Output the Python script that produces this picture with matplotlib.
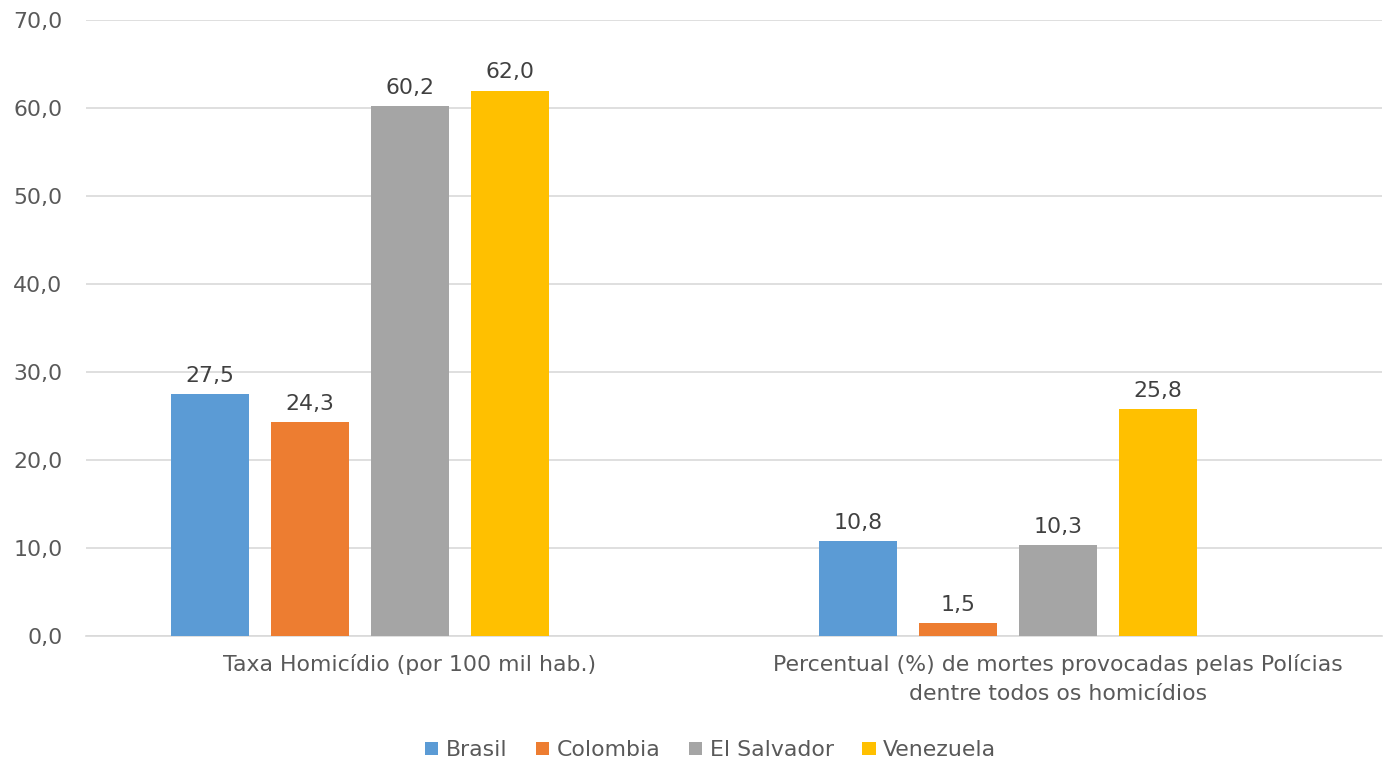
import numpy as np
import matplotlib.pyplot as plt

categories = ["Taxa Homicídio (por 100 mil hab.)",
              "Percentual (%) de mortes provocadas pelas Polícias\ndentre todos os homicídios"]
countries = ["Brasil", "Colombia", "El Salvador", "Venezuela"]
values = {
    "Brasil": [27.5, 10.8],
    "Colombia": [24.3, 1.5],
    "El Salvador": [60.2, 10.3],
    "Venezuela": [62.0, 25.8],
}
colors = ["#5B9BD5", "#ED7D31", "#A5A5A5", "#FFC000"]
yticks = [0, 10, 20, 30, 40, 50, 60, 70]

plt.rcParams['font.family'] = ['DejaVu Sans']
txt = "#595959"
fs = 15.8

fig = plt.figure(figsize=(13.88, 7.64), dpi=100)
ax = fig.add_axes([0.062, 0.1675, 0.9337, 0.806])

x = np.arange(len(categories))
slot = 0.1543
width = 0.12
for i, c in enumerate(countries):
    pos = x + (i - 2) * slot
    bars = ax.bar(pos, values[c], width=width, color=colors[i], label=c, zorder=3)
    for b, v in zip(bars, values[c]):
        ax.annotate(f"{v:.1f}".replace(".", ","), (b.get_x() + b.get_width() / 2, v),
                    xytext=(0, 6), textcoords="offset points", ha="center", va="bottom",
                    fontsize=fs, color="#404040")

ax.set_xlim(-0.5, 1.5)
ax.set_ylim(0, 70)
ax.set_yticks(yticks)
ax.set_yticklabels([f"{t:.1f}".replace(".", ",") for t in yticks], fontsize=fs, color=txt)
ax.set_xticks(x)
ax.set_xticklabels(categories, fontsize=fs, color=txt, linespacing=1.55)
ax.tick_params(axis="both", length=0)
ax.tick_params(axis="y", pad=17)
ax.tick_params(axis="x", pad=13)
ax.grid(axis="y", color="#D9D9D9", linewidth=1.2, zorder=0)
for s in ["top", "right", "left"]:
    ax.spines[s].set_visible(False)
ax.spines["bottom"].set_color("#D9D9D9")
ax.spines["bottom"].set_linewidth(1.2)

leg = fig.legend(loc="center", bbox_to_anchor=(0.512, 0.018), ncol=4, frameon=False,
                 fontsize=fs, handlelength=0.6, handleheight=0.6, handletextpad=0.35,
                 columnspacing=1.3)
for t in leg.get_texts():
    t.set_color(txt)

fig.savefig("out.png", dpi=100)
